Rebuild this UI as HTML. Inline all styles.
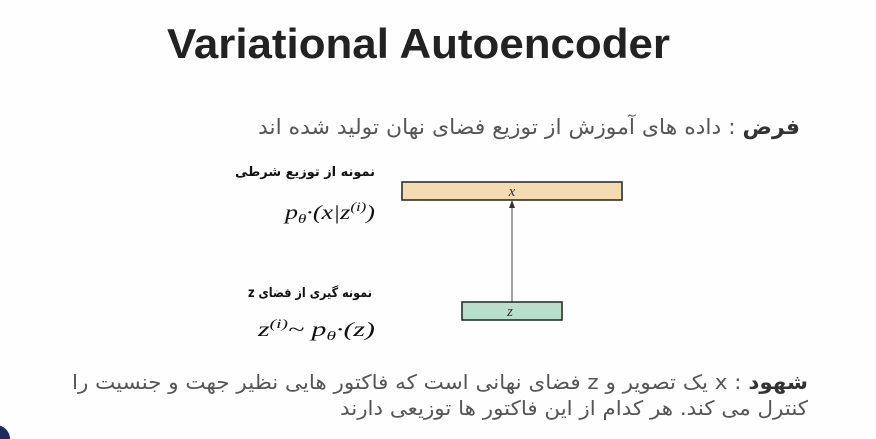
<!DOCTYPE html>
<html><head><meta charset="utf-8"><style>
html,body{margin:0;padding:0;background:#fff;width:876px;height:439px;overflow:hidden}
</style></head><body>
<svg width="876" height="439" viewBox="0 0 876 439" xmlns="http://www.w3.org/2000/svg">
<rect width="876" height="439" fill="#fefefe"/>
<text x="167" y="58" font-family="Liberation Sans, sans-serif" font-weight="bold" font-size="42" fill="#222" textLength="503" lengthAdjust="spacingAndGlyphs">Variational Autoencoder</text>
<text x="258" y="134" font-family="DejaVu Sans, sans-serif" font-size="21" fill="#555" textLength="542" lengthAdjust="spacingAndGlyphs" direction="rtl" unicode-bidi="embed" text-anchor="end"><tspan font-weight="bold" fill="#333">فرض</tspan> : داده های آموزش از توزیع فضای نهان تولید شده اند</text>
<text x="235" y="176" font-family="DejaVu Sans, sans-serif" font-size="13" font-weight="bold" fill="#111" textLength="140" lengthAdjust="spacingAndGlyphs" direction="rtl" unicode-bidi="embed" text-anchor="end">نمونه از توزیع شرطی</text>
<text x="285" y="219" font-family="Liberation Serif, serif" font-style="italic" font-size="20" fill="#111" textLength="90" lengthAdjust="spacingAndGlyphs">p<tspan font-size="13" dy="4">θ</tspan><tspan dy="-4">·(x|z</tspan><tspan font-size="13" dy="-8">(i)</tspan><tspan dy="8">)</tspan></text>
<rect x="402" y="182" width="220" height="18" fill="#f4dcb2" stroke="#222" stroke-width="1.5"/>
<text x="512" y="196" text-anchor="middle" font-family="Liberation Serif, serif" font-style="italic" font-size="15" fill="#333">x</text>
<line x1="512" y1="302" x2="512" y2="208" stroke="#666" stroke-width="1.2"/>
<polygon points="512,200 509,208 515,208" fill="#333"/>
<text x="248" y="297" font-family="DejaVu Sans, sans-serif" font-size="13" font-weight="bold" fill="#111" textLength="124" lengthAdjust="spacingAndGlyphs" direction="rtl" unicode-bidi="embed" text-anchor="end">نمونه گیری از فضای z</text>
<text x="258" y="336" font-family="Liberation Serif, serif" font-style="italic" font-size="20" fill="#111" textLength="117" lengthAdjust="spacingAndGlyphs">z<tspan font-size="13" dy="-8">(i)</tspan><tspan dy="8">~ p</tspan><tspan font-size="13" dy="4">θ</tspan><tspan dy="-4">·(z)</tspan></text>
<rect x="462" y="302" width="100" height="18" fill="#b8dfca" stroke="#222" stroke-width="1.5"/>
<text x="510" y="316" text-anchor="middle" font-family="Liberation Serif, serif" font-style="italic" font-size="15" fill="#333">z</text>
<text x="72" y="389" font-family="DejaVu Sans, sans-serif" font-size="20" fill="#555" textLength="736" lengthAdjust="spacingAndGlyphs" direction="rtl" unicode-bidi="embed" text-anchor="end"><tspan font-weight="bold" fill="#333">شهود</tspan> : x یک تصویر و z فضای نهانی است که فاکتور هایی نظیر جهت و جنسیت را</text>
<text x="340" y="415" font-family="DejaVu Sans, sans-serif" font-size="20" fill="#555" textLength="468" lengthAdjust="spacingAndGlyphs" direction="rtl" unicode-bidi="embed" text-anchor="end">کنترل می کند. هر کدام از این فاکتور ها توزیعی دارند</text>
<circle cx="-4" cy="439" r="14" fill="#1e2a5a"/>
</svg>
</body></html>
